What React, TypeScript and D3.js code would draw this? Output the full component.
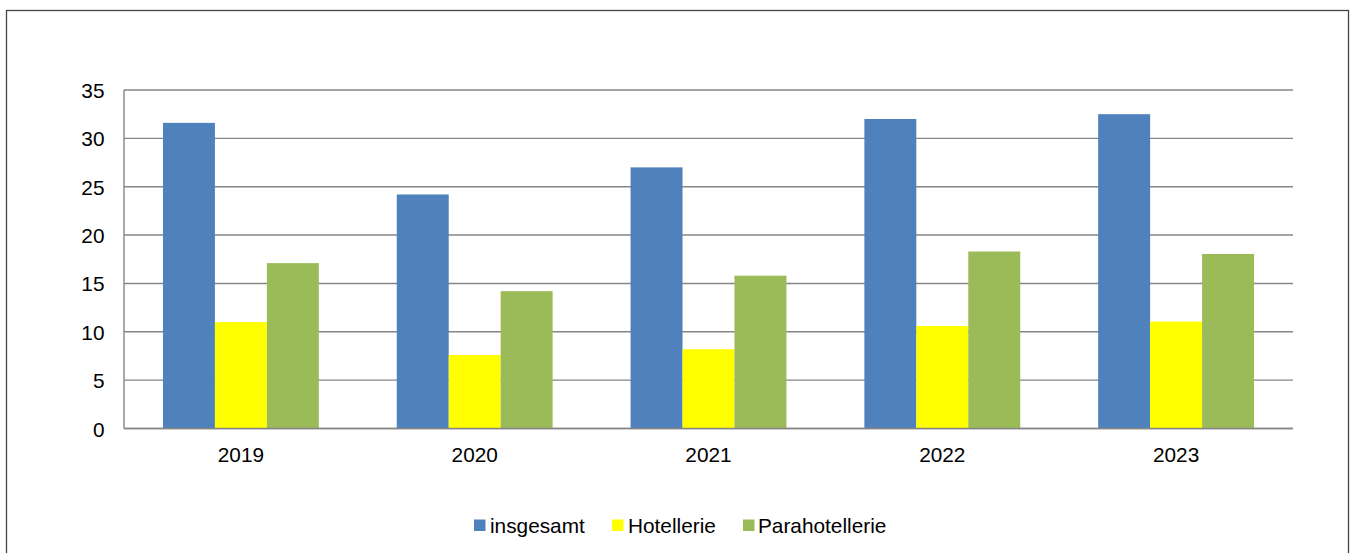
import React from "react";
import * as d3 from "d3";

const years = ["2019", "2020", "2021", "2022", "2023"];
const seriesNames = ["insgesamt", "Hotellerie", "Parahotellerie"];
const insgesamt = [31.6, 24.2, 27.0, 32.0, 32.5];
const hotellerie = [11.0, 7.6, 8.2, 10.6, 11.05];
const parahotellerie = [17.1, 14.2, 15.8, 18.3, 18.05];
const yTicks = [0, 5, 10, 15, 20, 25, 30, 35];
const colors = ["#4F81BD", "#FFFF00", "#9BBB59"];

const W = 1354;
const H = 553;
const left = 124;
const right = 1293;
const top = 90;
const bottom = 428.5;
const font = "'Liberation Sans', Arial, sans-serif";
const fs = 20.8;

export default function App() {
  const values = [insgesamt, hotellerie, parahotellerie];
  const x = d3.scaleBand<string>().domain(years).range([left, right]).paddingInner(0).paddingOuter(0);
  const catW = x.bandwidth();
  const barW = catW / 4.5;
  const groupOffset = (catW - 3 * barW) / 2;
  const y = d3.scaleLinear().domain([0, 35]).range([bottom, top]);

  const legendItems = [
    { sx: 474, tx: 490 },
    { sx: 612, tx: 628 },
    { sx: 743, tx: 758 },
  ];

  return (
    <svg
      width={W}
      height={H}
      style={{ position: "absolute", left: 0, top: 0, background: "#fff" }}
      fontFamily={font}
    >
      <rect x={6.5} y={10.5} width={1342} height={560} fill="#fff" stroke="#444" strokeWidth={1.3} />
      {yTicks.map((t) => (
        <g key={t}>
          <line x1={left} x2={right} y1={y(t)} y2={y(t)} stroke="#868686" strokeWidth={1.4} />
          <text x={104.5} y={y(t) + 8} textAnchor="end" fontSize={fs} fill="#000">
            {t}
          </text>
        </g>
      ))}
      <line x1={left} x2={left} y1={top} y2={bottom} stroke="#868686" strokeWidth={1.4} />
      {years.map((yr, i) => (
        <g key={yr}>
          {values.map((arr, s) => (
            <rect
              key={s}
              x={(x(yr) as number) + groupOffset + s * barW}
              y={y(arr[i])}
              width={barW}
              height={bottom - y(arr[i])}
              fill={colors[s]}
            />
          ))}
          <text
            x={(x(yr) as number) + catW / 2}
            y={461.5}
            textAnchor="middle"
            fontSize={fs}
            fill="#000"
          >
            {yr}
          </text>
        </g>
      ))}
      <line x1={left} x2={right} y1={bottom} y2={bottom} stroke="#868686" strokeWidth={1.4} />
      {seriesNames.map((n, i) => (
        <g key={n}>
          <rect x={legendItems[i].sx} y={519.5} width={11.5} height={11.5} fill={colors[i]} />
          <text x={legendItems[i].tx} y={533} fontSize={fs} fill="#000">
            {n}
          </text>
        </g>
      ))}
    </svg>
  );
}
